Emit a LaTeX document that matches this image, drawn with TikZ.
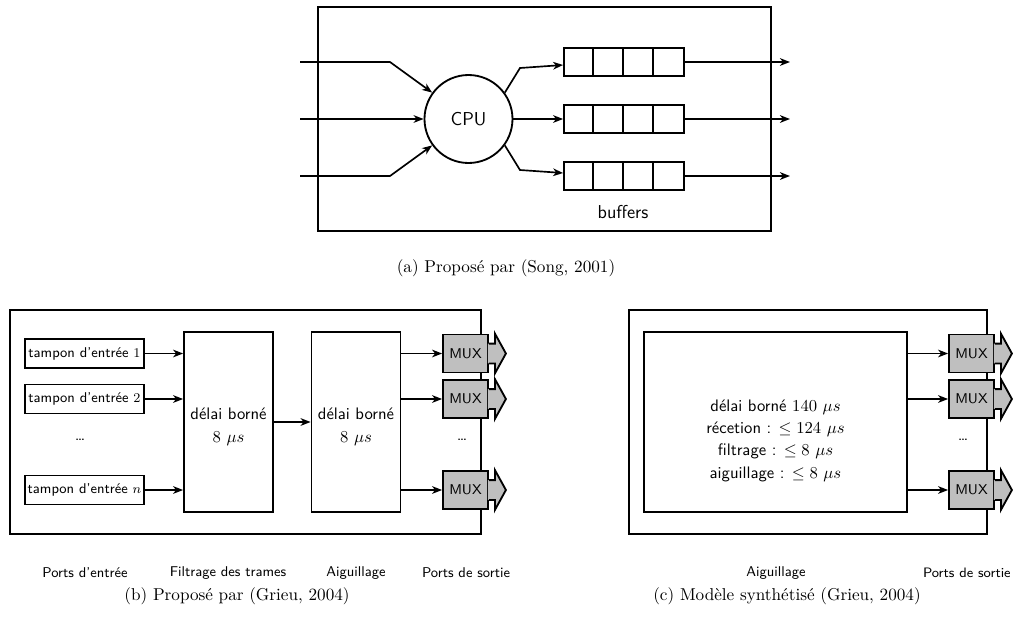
\documentclass[tikz,border=0pt]{standalone}
\usetikzlibrary{arrows.meta,calc}
\newcommand\muxhead[1]{%
  \fill[black!25] ($(#1.north east)+(-1,10)$) -- ++(7,0) -- ++(0,-10) -- ($(#1.east)+(17,0)$) -- ($(#1.south east)+(6,0)$) -- ++(0,-10) -- ++(-7,0) -- cycle;
  \draw[line width=1.1pt,line join=miter] ($(#1.north east)+(0,10)$) -- ++(6,0) -- ++(0,-10) -- ($(#1.east)+(17,0)$) -- ($(#1.south east)+(6,0)$) -- ++(0,-10) -- ++(-6,0);}
\begin{document}
\begin{tikzpicture}[x=0.6pt,y=-0.6pt,
  frame/.style={draw,line width=1.2pt},
  arr/.style={line width=1pt,-{Stealth[length=6pt,width=4.6pt,inset=1.8pt]}},
  sfA/.style={font=\sffamily\fontsize{11.2}{13}\selectfont},
  sfB/.style={font=\sffamily\fontsize{8.5}{10}\selectfont},
  sfC/.style={font=\sffamily\fontsize{10}{12}\selectfont},
  capt/.style={font=\rmfamily\fontsize{10.3}{12}\selectfont},
  bufbox/.style={draw,line width=1.1pt,minimum width=72pt,minimum height=16.8pt,inner sep=0pt},
  tampon/.style={draw,line width=1.1pt,fill=white,minimum width=71.4pt,minimum height=17.4pt,inner sep=0pt,sfB},
  delay/.style={draw,line width=1.1pt,fill=white,minimum width=53.4pt,minimum height=108pt,inner sep=0pt,align=center,sfC},
  mux/.style={draw,line width=1.1pt,fill=black!25,minimum width=27pt,minimum height=22.8pt,inner sep=0pt,sfB}]
\useasboundingbox (0,0) rectangle (1013,623);

% ---------------- (a)
\draw[frame] (318,7) rectangle (771,231);
\node[circle,draw,line width=1.1pt,minimum size=52.8pt,inner sep=0pt,sfA] (cpu) at (468.5,119) {CPU};
\node[bufbox] (b1) at (624,62) {};
\node[bufbox] (b2) at (624,119) {};
\node[bufbox] (b3) at (624,176) {};
\foreach \b in {b1,b2,b3}{
  \foreach \k in {1,2,3}{
    \draw[line width=1.1pt] ($(\b.north west)+(30*\k,0)$) -- ($(\b.south west)+(30*\k,0)$);
  }
}
\coordinate (i1) at (300,62);  \coordinate (k1) at (390,62);
\coordinate (i2) at (300,119);
\coordinate (i3) at (300,176); \coordinate (k3) at (390,176);
\draw[arr] (i1) -- (k1) -- (cpu.144);
\draw[arr] (i2) -- (cpu.west);
\draw[arr] (i3) -- (k3) -- (cpu.216);
\coordinate (o1) at (520,68); \coordinate (o3) at (520,170);
\draw[arr] (cpu.36) -- (o1) -- ($(b1.west)+(0,3)$);
\draw[arr] (cpu.east) -- (b2.west);
\draw[arr] (cpu.-36) -- (o3) -- ($(b3.west)+(0,-3)$);
\coordinate (e1) at (790,62); \coordinate (e2) at (790,119); \coordinate (e3) at (790,176);
\draw[arr] (b1.east) -- (e1);
\draw[arr] (b2.east) -- (e2);
\draw[arr] (b3.east) -- (e3);
\node[sfA] (buflbl) at (623,212) {buffers};
\node[capt] (capa) at (506,268) {(a) Proposé par (Song, 2001)};

% ---------------- (b)
\draw[frame] (10,310) rectangle (481,534);
\node[tampon] (t1) at (84.5,353.5) {tampon d'entrée $1$};
\node[tampon] (t2) at (84.5,399) {tampon d'entrée $2$};
\node[tampon] (tn) at (84.5,490) {tampon d'entrée $n$};
\node[sfC] (dotl) at (80,440) {\dots};
\node[delay] (d1) at (228.5,422) {};
\node[delay] (d2) at (356,422) {};
\node[sfC,align=center] (d1t) at (228.5,427) {délai borné\\[2pt]$8\ \mu s$};
\node[sfC,align=center] (d2t) at (356,427) {délai borné\\[2pt]$8\ \mu s$};
\draw[arr] (t1.east) -- (t1.east -| d1.west);
\draw[arr] (t2.east) -- (t2.east -| d1.west);
\draw[arr] (tn.east) -- (tn.east -| d1.west);
\draw[arr] (d1.east) -- (d2.west);
\node[mux] (m1) at (465.5,353.5) {MUX};
\node[mux] (m2) at (465.5,399) {MUX};
\node[mux] (m3) at (465.5,490) {MUX};
\muxhead{m1}\muxhead{m2}\muxhead{m3}
\draw[arr] (m1.west -| d2.east) -- (m1.west);
\draw[arr] (m2.west -| d2.east) -- (m2.west);
\draw[arr] (m3.west -| d2.east) -- (m3.west);
\node[sfC] (dotr) at (462,440) {\dots};
\node[sfB] (l1) at (85,573) {Ports d'entrée};
\node[sfB] (l2) at (228,573) {Filtrage des trames};
\node[sfB] (l3) at (356,573) {Aiguillage};
\node[sfB] (l4) at (466,573) {Ports de sortie};
\node[capt] (capb) at (237,596) {(b) Proposé par (Grieu, 2004)};

% ---------------- (c)
\draw[frame] (629,310) rectangle (987,534);
\node[draw,line width=1.1pt,fill=white,minimum width=157.8pt,minimum height=108pt,inner sep=0pt] (sw) at (775.5,422) {};
\node[sfC,align=center,font=\sffamily\fontsize{10}{13.4}\selectfont] (swt) at (775.5,440.5)
  {délai borné $140\ \mu s$\\ récetion : $\leq 124\ \mu s$\\ filtrage : $\leq 8\ \mu s$\\ aiguillage : $\leq 8\ \mu s$};
\node[mux] (c1) at (971.5,353.5) {MUX};
\node[mux] (c2) at (971.5,399) {MUX};
\node[mux] (c3) at (971.5,490) {MUX};
\muxhead{c1}\muxhead{c2}\muxhead{c3}
\draw[arr] (c1.west -| sw.east) -- (c1.west);
\draw[arr] (c2.west -| sw.east) -- (c2.west);
\draw[arr] (c3.west -| sw.east) -- (c3.west);
\node[sfC] (dotc) at (963,440) {\dots};
\node[sfB] (l5) at (776,573) {Aiguillage};
\node[font=\sffamily\fontsize{8.2}{10}\selectfont,anchor=east,inner sep=0pt] (l6) at (1011,573) {Ports de sortie};
\node[capt] (capc) at (787,596) {(c) Modèle synthétisé (Grieu, 2004)};
\end{tikzpicture}
\end{document}
